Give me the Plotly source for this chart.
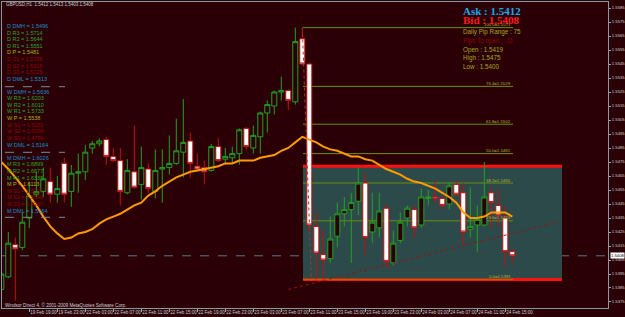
import plotly.graph_objects as go

# ---------------- data ----------------
tick_labels = ["19 Feb 2010", "19 Feb 19:00", "19 Feb 23:00", "22 Feb 03:00", "22 Feb 07:00",
               "22 Feb 11:00", "22 Feb 15:00", "22 Feb 19:00", "22 Feb 23:00", "23 Feb 03:00",
               "23 Feb 07:00", "23 Feb 11:00", "23 Feb 15:00", "23 Feb 19:00", "23 Feb 23:00",
               "24 Feb 03:00", "24 Feb 07:00", "24 Feb 11:00", "24 Feb 15:00"]

bar_open = [1.5384, 1.5393, 1.5416, 1.5414, 1.5435, 1.5452, 1.5454, 1.5461, 1.5452, 1.5474,
            1.5454, 1.5467, 1.5468, 1.5485, 1.5488, 1.5491, 1.5479, 1.5476, 1.5453, 1.5468,
            1.5459, 1.5470, 1.5454, 1.5470, 1.5471, 1.5474, 1.5482, 1.5490, 1.5472, 1.5471,
            1.5469, 1.5486, 1.5477, 1.5478, 1.5481, 1.5499, 1.5485, 1.5493, 1.5510, 1.5515,
            1.5525, 1.5526, 1.5518, 1.5563, 1.5545, 1.5429, 1.5409, 1.5406, 1.5422, 1.5438,
            1.5441, 1.5447, 1.5460, 1.5425, 1.5428, 1.5442, 1.5403, 1.5419, 1.5435, 1.5441,
            1.5430, 1.5449, 1.5450, 1.5449, 1.5445, 1.5459, 1.5453, 1.5427, 1.5430, 1.5430,
            1.5453, 1.5444, 1.5435, 1.5411]
bar_high = [1.5421, 1.5425, 1.5421, 1.5439, 1.5461, 1.5468, 1.5471, 1.5471, 1.5465, 1.5478,
            1.5473, 1.5481, 1.5487, 1.5490, 1.5492, 1.5493, 1.5485, 1.5485, 1.5477, 1.5501,
            1.5486, 1.5474, 1.5484, 1.5484, 1.5494, 1.5506, 1.5520, 1.5496, 1.5481, 1.5476,
            1.5488, 1.5492, 1.5485, 1.5486, 1.5499, 1.5500, 1.5501, 1.5511, 1.5519, 1.5526,
            1.5536, 1.5527, 1.5571, 1.5569, 1.5546, 1.5439, 1.5426, 1.5436, 1.5446, 1.5450,
            1.5453, 1.5471, 1.5467, 1.5453, 1.5453, 1.5445, 1.5426, 1.5439, 1.5444, 1.5444,
            1.5456, 1.5455, 1.5461, 1.5451, 1.5460, 1.5462, 1.5460, 1.5457, 1.5444, 1.5475,
            1.5457, 1.5456, 1.5444, 1.5413]
bar_low = [1.5376, 1.5392, 1.5376, 1.5412, 1.5428, 1.5450, 1.5450, 1.5446, 1.5446, 1.5446,
           1.5443, 1.5453, 1.5462, 1.5481, 1.5486, 1.5473, 1.5475, 1.5444, 1.5452, 1.5456,
           1.5448, 1.5453, 1.5449, 1.5446, 1.5466, 1.5473, 1.5464, 1.5464, 1.5468, 1.5459,
           1.5468, 1.5475, 1.5473, 1.5474, 1.5473, 1.5484, 1.5481, 1.5481, 1.5496, 1.5509,
           1.5519, 1.5512, 1.5516, 1.5544, 1.5425, 1.5391, 1.5391, 1.5403, 1.5414, 1.5429,
           1.5403, 1.5437, 1.5409, 1.5417, 1.5421, 1.5399, 1.5401, 1.5417, 1.5429, 1.5421,
           1.5428, 1.5444, 1.5446, 1.5441, 1.5441, 1.5450, 1.5416, 1.5421, 1.5411, 1.5429,
           1.5428, 1.5428, 1.5400, 1.5403]
bar_close = [1.5395, 1.5417, 1.5413, 1.5432, 1.5451, 1.5454, 1.5463, 1.5452, 1.5456, 1.5452,
             1.5467, 1.5468, 1.5482, 1.5488, 1.5490, 1.5479, 1.5476, 1.5454, 1.5469, 1.5457,
             1.5471, 1.5456, 1.5469, 1.5471, 1.5474, 1.5483, 1.5489, 1.5474, 1.5470, 1.5468,
             1.5486, 1.5476, 1.5479, 1.5481, 1.5498, 1.5486, 1.5494, 1.5510, 1.5516, 1.5525,
             1.5526, 1.5519, 1.5561, 1.5545, 1.5430, 1.5410, 1.5405, 1.5420, 1.5438, 1.5441,
             1.5446, 1.5460, 1.5421, 1.5432, 1.5440, 1.5404, 1.5417, 1.5432, 1.5442, 1.5428,
             1.5450, 1.5450, 1.5449, 1.5444, 1.5458, 1.5452, 1.5425, 1.5429, 1.5434, 1.5450,
             1.5446, 1.5437, 1.5411, 1.5408]
ma_values = [1.5475, 1.5470, 1.5464, 1.5458, 1.5451, 1.5444, 1.5436, 1.5429, 1.5424, 1.5420,
             1.5421, 1.5424, 1.5425, 1.5427, 1.5431, 1.5434, 1.5436, 1.5438, 1.5441, 1.5444,
             1.5446, 1.5451, 1.5454, 1.5458, 1.5461, 1.5464, 1.5466, 1.5468, 1.5469, 1.5470,
             1.5471, 1.5472, 1.5474, 1.5474, 1.5476, 1.5476, 1.5476, 1.5478, 1.5479, 1.5480,
             1.5483, 1.5485, 1.5489, 1.5493, 1.5491, 1.5489, 1.5486, 1.5484, 1.5483, 1.5481,
             1.5479, 1.5479, 1.5477, 1.5476, 1.5473, 1.5470, 1.5468, 1.5466, 1.5463, 1.5461,
             1.5460, 1.5458, 1.5456, 1.5453, 1.5450, 1.5446, 1.5439, 1.5435, 1.5435, 1.5436,
             1.5439, 1.5439, 1.5439, 1.5436]

fib_names = ["0.0", "23.6", "38.2", "50.0", "61.8", "76.4", "100.0"]
fib_levels = [1.5391, 1.5433, 1.5460, 1.5481, 1.5502, 1.5529, 1.5571]
range_box = [1.5391, 1.5472]
trend_prices = [1.5384, 1.5432]
bid_price = 1.5408
price_ticks = [1.5375 + 0.001 * k for k in range(22)]

pivot_groups = [
    ["D DMH = 1.5496", "D R3 = 1.5714", "D R2 = 1.5644", "D R1 = 1.5551", "D P = 1.5481",
     "D S1 = 1.5388", "D S2 = 1.5318", "D S3 = 1.5225", "D DML = 1.5313"],
    ["W DMH = 1.5636", "W R3 = 1.6203", "W R2 = 1.6010", "W R1 = 1.5733", "W P = 1.5538",
     "W S1 = 1.5261", "W S2 = 1.5066", "W S3 = 1.4789", "W DML = 1.5164"],
    ["M DMH = 1.6026", "M R3 = 1.6899", "M R2 = 1.6677", "M R1 = 1.6335", "M P = 1.6113",
     "M S1 = 1.5771", "M S2 = 1.5549", "M S3 = 1.5207", "M DML = 1.5664"],
]
info_lines = ["Daily Pip Range : 75", "Pips To open : -11", "Open : 1.5419",
              "High : 1.5475", "Low : 1.5400"]

# ---------------- layout helpers ----------------
W, H = 625, 317
ML, MR, MT, MB = 2, 17, 2, 9
PW, PH = W - ML - MR, H - MT - MB
def px(x):
    return (x - ML) / PW
def py(y):
    return (H - MB - y) / PH

BG = "#2a0006"
n = len(bar_open)
xs = list(range(n))

fig = go.Figure()

fig.add_trace(go.Candlestick(
    x=xs, open=bar_open, high=bar_high, low=bar_low, close=bar_close,
    increasing=dict(line=dict(color="#22a022", width=1), fillcolor=BG),
    decreasing=dict(line=dict(color="#c01010", width=1), fillcolor="#ffffff"),
    whiskerwidth=0, showlegend=False, hoverinfo="skip"))

fig.add_trace(go.Scatter(x=xs, y=ma_values, mode="lines",
                         line=dict(color="#ff9a00", width=2), showlegend=False, hoverinfo="skip"))

fig.add_trace(go.Scatter(x=[41, 79.4], y=trend_prices, mode="lines",
                         line=dict(color="#9a1010", width=1, dash="dot"), showlegend=False, hoverinfo="skip"))
fig.add_trace(go.Scatter(x=[43, 44.3], y=[fib_levels[-1], fib_levels[0]], mode="lines",
                         line=dict(color="#b03030", width=1, dash="dot"), showlegend=False, hoverinfo="skip"))

shapes = []
# range box
shapes.append(dict(type="rect", xref="x", yref="y", x0=43.1, x1=80.1, y0=range_box[0], y1=range_box[1],
                   fillcolor="rgb(44,74,74)", line=dict(width=0), layer="below"))
for lv in range_box:
    shapes.append(dict(type="line", xref="x", yref="y", x0=43.1, x1=80.1, y0=lv, y1=lv,
                       line=dict(color="#ff1010", width=3), layer="below"))
# fib lines
for lv in fib_levels:
    shapes.append(dict(type="line", xref="x", yref="y", x0=43.1, x1=73.1, y0=lv, y1=lv,
                       line=dict(color="#6b8e10", width=1), layer="below"))
# bid line
shapes.append(dict(type="line", xref="paper", yref="y", x0=0, x1=1, y0=bid_price, y1=bid_price,
                   line=dict(color="#5a7a86", width=1, dash="dash"), layer="below"))
# pivot separators
for ysep in [86.7, 152.3, 217.3]:
    shapes.append(dict(type="line", xref="paper", yref="paper", x0=px(5), x1=px(65), y0=py(ysep), y1=py(ysep),
                       line=dict(color="#7a8c94", width=1, dash="dash")))

annotations = []
# fib labels
for name, lv in zip(fib_names, fib_levels):
    annotations.append(dict(x=73.1, y=lv, xref="x", yref="y", text=f"{name}={lv:.4f}",
                            showarrow=False, xanchor="right", yanchor="bottom", yshift=-1.5,
                            font=dict(family="Liberation Sans", size=4.3, color="#b4b43c")))
# pivot texts
group_start = [26, 91.7, 157.7]
for g, lines in enumerate(pivot_groups):
    for k, t in enumerate(lines):
        if "DM" in t:
            col = "#1c8cc8"
        elif " R" in t:
            col = "#2aa82a"
        elif " P " in t:
            col = "#b0b010"
        else:
            col = "#8a0808"
        annotations.append(dict(x=px(5), y=py(group_start[g] + 6.6 * k), xref="paper", yref="paper",
                                text=t, showarrow=False, xanchor="left", yanchor="middle",
                                font=dict(family="Liberation Sans", size=5.5, color=col)))
# ask / bid
annotations.append(dict(x=px(461), y=py(11), xref="paper", yref="paper", text="<b>Ask : 1.5412</b>",
                        showarrow=False, xanchor="left", yanchor="middle",
                        font=dict(family="Liberation Serif", size=11, color="#20a8e8")))
annotations.append(dict(x=px(461), y=py(19.7), xref="paper", yref="paper", text="<b>Bid : 1.5408</b>",
                        showarrow=False, xanchor="left", yanchor="middle",
                        font=dict(family="Liberation Serif", size=11, color="#ff1a1a")))
info_cols = ["#a8a820", "#8a0808", "#a8a820", "#a8a820", "#a8a820"]
for k, (t, c) in enumerate(zip(info_lines, info_cols)):
    annotations.append(dict(x=px(461), y=py(32.3 + 8.6 * k), xref="paper", yref="paper", text=t,
                            showarrow=False, xanchor="left", yanchor="middle",
                            font=dict(family="Liberation Sans", size=6.3, color=c)))
# title and copyright
annotations.append(dict(x=px(4), y=py(4.5), xref="paper", yref="paper",
                        text="GBPUSD,H1  1.5412 1.5413 1.5403 1.5408", showarrow=False,
                        xanchor="left", yanchor="middle",
                        font=dict(family="Liberation Sans", size=4.5, color="#d0d0d0")))
annotations.append(dict(x=px(3), y=py(304.5), xref="paper", yref="paper",
                        text="Windsor Direct 4, \u00a9 2001-2009 MetaQuotes Software Corp.", showarrow=False,
                        xanchor="left", yanchor="middle",
                        font=dict(family="Liberation Sans", size=4.6, color="#d0d0d0")))
# bid box on price axis
annotations.append(dict(x=1.0, y=bid_price, xref="paper", yref="y", text=f"{bid_price:.4f}",
                        showarrow=False, xanchor="left", yanchor="middle", xshift=2,
                        bgcolor="#ffffff", borderpad=0,
                        font=dict(family="Liberation Sans", size=4.2, color="#000000")))

fig.update_layout(
    width=W, height=H, margin=dict(l=ML, r=MR, t=MT, b=MB, autoexpand=False),
    paper_bgcolor=BG, plot_bgcolor=BG, boxgap=0.2, boxgroupgap=0.1,
    shapes=shapes, annotations=annotations, showlegend=False,
    xaxis=dict(range=[0.1, 86.67], showgrid=False, zeroline=False, automargin=False,
               tickvals=list(range(0, n, 4)), ticktext=tick_labels, tickangle=0,
               ticklabelposition="outside right", ticks="outside", ticklen=3, tickcolor="#9aa8b0",
               tickfont=dict(family="Liberation Sans", size=4.5, color="#d0d0d0"),
               showline=True, linecolor="#8a9aa4", linewidth=1, mirror=True,
               rangeslider=dict(visible=False), fixedrange=True),
    yaxis=dict(range=[1.537071, 1.558929], side="right", showgrid=False, zeroline=False, automargin=False,
               tickvals=price_ticks, ticktext=[f"{v:.4f}" for v in price_ticks],
               ticks="outside", ticklen=2, tickcolor="#9aa8b0", ticklabelstandoff=0,
               tickfont=dict(family="Liberation Sans", size=4.2, color="#d0d0d0"),
               showline=True, linecolor="#8a9aa4", linewidth=1, mirror=True, fixedrange=True),
)

fig.write_html("out.html")
